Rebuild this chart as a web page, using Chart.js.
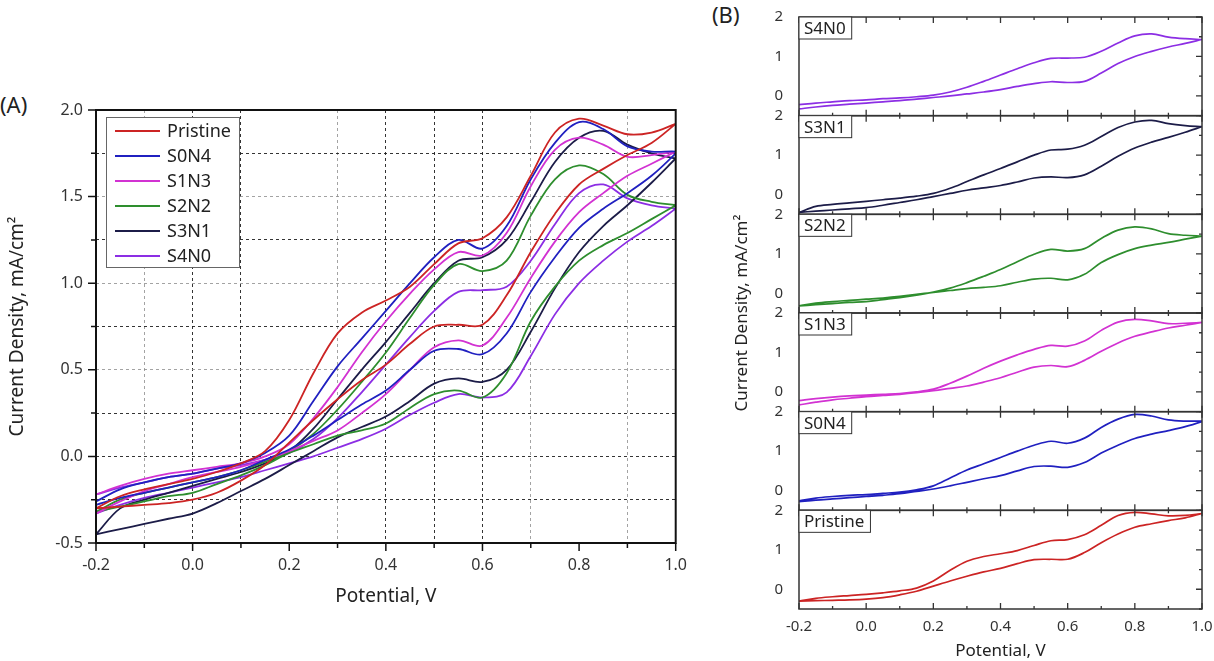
<!DOCTYPE html>
<html>
<head>
<meta charset="utf-8">
<script src="https://cdn.jsdelivr.net/npm/chart.js@4.4.1/dist/chart.umd.min.js"></script>
<style>
  body { margin: 0; background: #fff; font-family: "Noto Sans", Arial, sans-serif; }
  #wrap { position: relative; width: 1214px; height: 661px; overflow: hidden; }
  .panel { position: absolute; top: 0; }
  .tag { position: absolute; font-size: 22px; color: #222; }
</style>
</head>
<body>
<div id="wrap">
  <div class="tag" style="left:0;top:89px">(A)</div>
  <div class="tag" style="left:712px;top:-1px">(B)</div>
  <div class="panel" style="left:0"><canvas id="chartA" width="700" height="661"></canvas></div>
  <div class="panel" style="left:700px"><canvas id="chartB" width="514" height="661"></canvas></div>
</div>
<script>
// potential grid, V (same for both scan directions)
const potential = [-0.2, -0.15, -0.1, -0.05, 0, 0.05, 0.1, 0.15, 0.2, 0.25, 0.3, 0.35, 0.4,
                   0.45, 0.5, 0.55, 0.6, 0.65, 0.7, 0.75, 0.8, 0.85, 0.9, 0.95, 1.0];

const sampleNames = ['Pristine', 'S0N4', 'S1N3', 'S2N2', 'S3N1', 'S4N0'];

// current density, mA/cm2 - anodic (upper) and cathodic (lower) branches
const pristineAnodic   = [-0.30, -0.23, -0.19, -0.16, -0.13, -0.09, -0.04, 0.03, 0.21, 0.48, 0.71, 0.83, 0.90, 0.98, 1.11, 1.23, 1.26, 1.38, 1.62, 1.87, 1.95, 1.91, 1.86, 1.87, 1.92];
const pristineCathodic = [-0.30, -0.29, -0.28, -0.27, -0.25, -0.21, -0.14, -0.05, 0.08, 0.21, 0.33, 0.44, 0.53, 0.65, 0.75, 0.76, 0.76, 0.93, 1.18, 1.40, 1.57, 1.66, 1.74, 1.81, 1.92];

const s0n4Anodic   = [-0.26, -0.19, -0.15, -0.12, -0.10, -0.07, -0.04, 0.02, 0.12, 0.32, 0.52, 0.68, 0.84, 1.00, 1.15, 1.25, 1.20, 1.33, 1.60, 1.81, 1.93, 1.89, 1.79, 1.76, 1.76];
const s0n4Cathodic = [-0.28, -0.24, -0.21, -0.18, -0.15, -0.12, -0.08, -0.02, 0.04, 0.12, 0.21, 0.30, 0.38, 0.50, 0.61, 0.62, 0.59, 0.71, 0.95, 1.15, 1.32, 1.43, 1.52, 1.62, 1.75];

const s1n3Anodic   = [-0.22, -0.17, -0.13, -0.10, -0.08, -0.06, -0.04, 0.00, 0.07, 0.22, 0.40, 0.60, 0.78, 0.94, 1.08, 1.18, 1.16, 1.29, 1.56, 1.77, 1.84, 1.80, 1.73, 1.74, 1.76];
const s1n3Cathodic = [-0.33, -0.26, -0.20, -0.16, -0.12, -0.09, -0.06, -0.02, 0.03, 0.09, 0.15, 0.25, 0.36, 0.50, 0.63, 0.67, 0.64, 0.80, 1.03, 1.24, 1.41, 1.52, 1.62, 1.69, 1.76];

const s2n2Anodic   = [-0.32, -0.25, -0.21, -0.18, -0.15, -0.12, -0.08, -0.03, 0.03, 0.13, 0.27, 0.43, 0.60, 0.80, 0.99, 1.11, 1.07, 1.13, 1.39, 1.60, 1.68, 1.63, 1.51, 1.47, 1.45];
const s2n2Cathodic = [-0.32, -0.29, -0.26, -0.23, -0.21, -0.16, -0.11, -0.05, 0.02, 0.07, 0.12, 0.15, 0.19, 0.28, 0.36, 0.38, 0.34, 0.48, 0.78, 0.98, 1.13, 1.22, 1.29, 1.37, 1.45];

const s3n1Anodic   = [-0.45, -0.30, -0.25, -0.21, -0.17, -0.13, -0.09, -0.04, 0.03, 0.16, 0.33, 0.50, 0.66, 0.83, 1.00, 1.13, 1.15, 1.25, 1.47, 1.70, 1.84, 1.88, 1.80, 1.75, 1.72];
const s3n1Cathodic = [-0.45, -0.42, -0.39, -0.36, -0.33, -0.27, -0.20, -0.13, -0.05, 0.03, 0.11, 0.17, 0.23, 0.32, 0.42, 0.45, 0.43, 0.50, 0.72, 0.97, 1.18, 1.33, 1.45, 1.58, 1.72];

const s4n0Anodic   = [-0.22, -0.18, -0.15, -0.12, -0.10, -0.07, -0.05, -0.02, 0.02, 0.10, 0.22, 0.37, 0.53, 0.69, 0.84, 0.95, 0.96, 0.98, 1.13, 1.34, 1.52, 1.57, 1.49, 1.45, 1.43];
const s4n0Cathodic = [-0.33, -0.28, -0.24, -0.21, -0.18, -0.15, -0.12, -0.08, -0.04, 0.00, 0.05, 0.10, 0.16, 0.24, 0.31, 0.36, 0.34, 0.37, 0.58, 0.82, 1.00, 1.13, 1.24, 1.33, 1.43];

const anodicSets   = [pristineAnodic, s0n4Anodic, s1n3Anodic, s2n2Anodic, s3n1Anodic, s4n0Anodic];
const cathodicSets = [pristineCathodic, s0n4Cathodic, s1n3Cathodic, s2n2Cathodic, s3n1Cathodic, s4n0Cathodic];
const lineColors   = ['#cc2424', '#2020c0', '#d232d2', '#2e8e2e', '#1c1c48', '#8c2ee4'];

// panel B, top to bottom
const panelOrder = [5, 4, 3, 2, 1, 0];

const FONT = '"Noto Sans", Arial, sans-serif';

function loopPoints(up, down) {
    const pts = potential.map((v, i) => ({ x: v, y: up[i] }));
    for (let i = potential.length - 1; i >= 0; i--) {
        pts.push({ x: potential[i], y: down[i] });
    }
    return pts;
}

function tenthLabel(value) {
    const t = Math.round(value * 10);
    return t % 2 === 0 ? (t / 10).toFixed(1) : '';
}

// grid tones of panel A (by tenths of volt / quarters of mA)
const darkTenths = [0, 1, 4, 5, 6];
const lightTenths = [-1, 3, 7, 9];
const darkQuarters = [-1, 0, 1, 3, 5, 7];
const lightQuarters = [2, 4, 6];

function gridTone(n, dark, light) {
    if (dark.includes(n)) return 'rgba(30,30,30,0.9)';
    if (light.includes(n)) return 'rgba(140,140,140,0.8)';
    return 'rgba(0,0,0,0)';
}

const frameA = {
    id: 'frameA',
    afterDraw(chart) {
        const { ctx, chartArea: a, scales } = chart;
        ctx.save();
        ctx.strokeStyle = '#111';
        ctx.lineWidth = 2;
        ctx.strokeRect(a.left, a.top, a.right - a.left, a.bottom - a.top);

        ctx.lineWidth = 1.5;
        ctx.beginPath();
        scales.x.ticks.forEach(t => {
            const px = scales.x.getPixelForValue(t.value);
            const len = Math.round(t.value * 10) % 2 === 0 ? 8 : 5;
            ctx.moveTo(px, a.bottom);
            ctx.lineTo(px, a.bottom + len);
        });
        scales.y.ticks.forEach(t => {
            const py = scales.y.getPixelForValue(t.value);
            const len = Math.round(t.value * 4) % 2 === 0 ? 8 : 5;
            ctx.moveTo(a.left, py);
            ctx.lineTo(a.left - len, py);
        });
        ctx.stroke();

        // legend box
        const lx = a.left + 10, ly = a.top + 7, lw = 133, lh = 150;
        ctx.fillStyle = '#fff';
        ctx.fillRect(lx, ly, lw, lh);
        ctx.strokeStyle = '#666';
        ctx.lineWidth = 1;
        ctx.strokeRect(lx + 0.5, ly + 0.5, lw, lh);
        ctx.font = '18px ' + FONT;
        ctx.textBaseline = 'middle';
        chart.data.datasets.forEach((ds, i) => {
            const y = ly + 14 + i * 25;
            ctx.strokeStyle = ds.borderColor;
            ctx.lineWidth = 1.8;
            ctx.beginPath();
            ctx.moveTo(lx + 9, y);
            ctx.lineTo(lx + 54, y);
            ctx.stroke();
            ctx.fillStyle = '#222';
            ctx.fillText(ds.label, lx + 61, y + 1);
        });
        ctx.restore();
    }
};

const framesB = {
    id: 'framesB',
    afterDraw(chart) {
        const { ctx, chartArea: a, scales } = chart;
        const xs = scales.x;
        ctx.save();
        panelOrder.forEach((k, i) => {
            const s = scales['p' + i];
            ctx.strokeStyle = '#333';
            ctx.lineWidth = 1.5;
            ctx.strokeRect(a.left, s.top, a.right - a.left, s.bottom - s.top);

            ctx.lineWidth = 1.3;
            ctx.beginPath();
            xs.ticks.forEach(t => {
                const px = xs.getPixelForValue(t.value);
                const len = Math.round(t.value * 10) % 2 === 0 ? 6 : 3;
                ctx.moveTo(px, s.top);
                ctx.lineTo(px, s.top + len);
                ctx.moveTo(px, s.bottom);
                ctx.lineTo(px, s.bottom - len);
            });
            s.ticks.forEach(t => {
                const py = s.getPixelForValue(t.value);
                const len = Number.isInteger(t.value) ? 6 : 3;
                ctx.moveTo(a.right, py);
                ctx.lineTo(a.right - len, py);
            });
            ctx.stroke();

            // sample label box
            const name = sampleNames[k];
            ctx.font = '17px ' + FONT;
            const w = ctx.measureText(name).width + 11;
            ctx.fillStyle = '#fff';
            ctx.fillRect(a.left, s.top, w, 22);
            ctx.strokeStyle = '#333';
            ctx.lineWidth = 1;
            ctx.strokeRect(a.left, s.top, w, 22);
            ctx.fillStyle = '#222';
            ctx.textBaseline = 'middle';
            ctx.fillText(name, a.left + 5, s.top + 12);
        });
        ctx.restore();
    }
};

// ---------- panel A ----------
new Chart(document.getElementById('chartA'), {
    type: 'scatter',
    data: {
        datasets: sampleNames.map((name, i) => ({
            label: name,
            data: loopPoints(anodicSets[i], cathodicSets[i]),
            showLine: true,
            borderColor: lineColors[i],
            borderWidth: 1.8,
            pointRadius: 0,
            tension: 0.35
        }))
    },
    options: {
        responsive: false,
        animation: false,
        layout: { padding: { left: 0, top: 110, right: 23, bottom: 51 } },
        plugins: { legend: { display: false }, tooltip: { enabled: false } },
        scales: {
            x: {
                type: 'linear',
                min: -0.2,
                max: 1.0,
                afterFit(scale) { scale.height = 67; },
                ticks: {
                    stepSize: 0.1,
                    autoSkip: false,
                    maxRotation: 0,
                    padding: 13,
                    color: '#333',
                    font: { family: FONT, size: 16 },
                    callback: tenthLabel
                },
                grid: {
                    drawTicks: false,
                    lineWidth: 1,
                    color: ctx => gridTone(Math.round(ctx.tick.value * 10), darkTenths, lightTenths)
                },
                border: { display: false, dash: [3, 3] },
                title: {
                    display: true,
                    text: 'Potential, V',
                    color: '#222',
                    font: { family: FONT, size: 19 },
                    padding: { top: 0, bottom: 2 }
                }
            },
            y: {
                type: 'linear',
                min: -0.5,
                max: 2.0,
                afterFit(scale) { scale.width = 96; },
                ticks: {
                    stepSize: 0.25,
                    autoSkip: false,
                    padding: 13,
                    color: '#333',
                    font: { family: FONT, size: 16 },
                    callback: v => Math.round(v * 4) % 2 === 0 ? v.toFixed(1) : ''
                },
                grid: {
                    drawTicks: false,
                    lineWidth: 1,
                    color: ctx => gridTone(Math.round(ctx.tick.value * 4), darkQuarters, lightQuarters)
                },
                border: { display: false, dash: [3, 3] },
                title: {
                    display: true,
                    text: 'Current Density, mA/cm²',
                    color: '#222',
                    font: { family: FONT, size: 19 },
                    padding: { top: 6, bottom: 0 }
                }
            }
        }
    },
    plugins: [frameA]
});

// ---------- panel B ----------
const scalesB = {
    x: {
        type: 'linear',
        min: -0.2,
        max: 1.0,
        afterFit(scale) { scale.height = 52; },
        ticks: {
            stepSize: 0.1,
            autoSkip: false,
            maxRotation: 0,
            padding: 1,
            color: '#333',
            font: { family: FONT, size: 15 },
            callback: tenthLabel
        },
        grid: { display: false },
        border: { display: false },
        title: {
            display: true,
            text: 'Potential, V',
            color: '#222',
            font: { family: FONT, size: 17 },
            padding: { top: 0, bottom: 0 }
        }
    },
    yT: {
        type: 'linear',
        position: 'left',
        weight: 10,
        afterFit(scale) { scale.width = 50; },
        ticks: { display: false },
        grid: { display: false },
        border: { display: false },
        title: {
            display: true,
            text: 'Current Density, mA/cm²',
            color: '#222',
            font: { family: FONT, size: 17 },
            padding: { top: 32, bottom: 0 }
        }
    }
};
panelOrder.forEach((k, i) => {
    scalesB['p' + i] = {
        type: 'linear',
        position: 'left',
        stack: 'cv',
        stackWeight: 1,
        weight: 6 - i,
        min: -0.5,
        max: 2.0,
        afterFit(scale) { scale.width = 49; },
        ticks: {
            stepSize: 0.5,
            autoSkip: false,
            padding: 8,
            color: '#333',
            font: { family: FONT, size: 15 },
            callback: v => Number.isInteger(v) ? String(v) : ''
        },
        grid: { display: false },
        border: { display: false }
    };
});

new Chart(document.getElementById('chartB'), {
    type: 'scatter',
    data: {
        datasets: panelOrder.map((k, i) => ({
            label: sampleNames[k],
            data: loopPoints(anodicSets[k], cathodicSets[k]),
            yAxisID: 'p' + i,
            showLine: true,
            borderColor: lineColors[k],
            borderWidth: 1.7,
            pointRadius: 0,
            tension: 0.35
        }))
    },
    options: {
        responsive: false,
        animation: false,
        layout: { padding: { left: 0, top: 14, right: 12, bottom: 0 } },
        plugins: { legend: { display: false }, tooltip: { enabled: false } },
        scales: scalesB
    },
    plugins: [framesB]
});
</script>
</body>
</html>
